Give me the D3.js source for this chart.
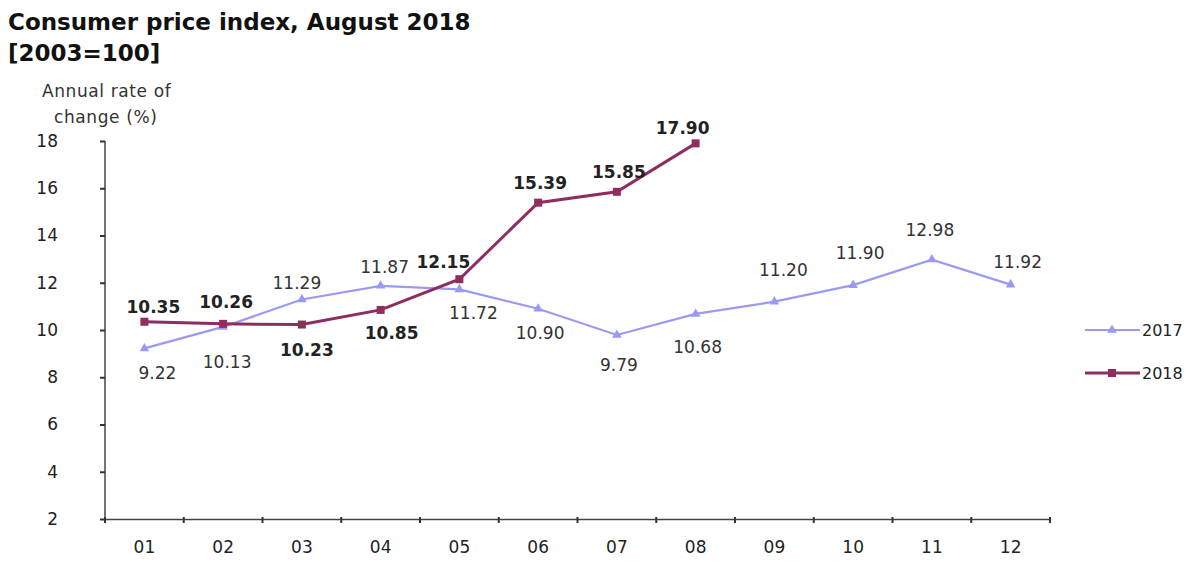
<!DOCTYPE html>
<html>
<head>
<meta charset="utf-8">
<script src="https://cdn.jsdelivr.net/npm/d3@7"></script>
<style>
  body { margin: 0; background: #fff; }
  svg { display: block; font-family: "DejaVu Sans", sans-serif; }
</style>
</head>
<body>
<script>
const months = ['01', '02', '03', '04', '05', '06', '07', '08', '09', '10', '11', '12'];
const values2017 = [9.22, 10.13, 11.29, 11.87, 11.72, 10.90, 9.79, 10.68, 11.20, 11.90, 12.98, 11.92];
const values2018 = [10.35, 10.26, 10.23, 10.85, 12.15, 15.39, 15.85, 17.90];
const yTicks = [2, 4, 6, 8, 10, 12, 14, 16, 18];

// label nudges (dx, dy of the label centre from its point)
const off2017 = [[13, 25], [4, 35], [-5, -17], [4, -19], [14, 24], [2, 24], [2, 30], [2, 33], [9, -32], [7, -32], [-2, -30], [7, -23]];
const off2018 = [[9, -15], [3, -22], [5, 25], [11, 23], [-16, -17], [2, -20], [2, -20], [-13, -15]];

const width = 1200, height = 569;
const svg = d3.select('body').append('svg')
  .attr('width', width)
  .attr('height', height);

const x = d3.scaleBand().domain(months).range([105, 1050]);
const y = d3.scaleLinear().domain([2, 18]).range([519, 141]);
const cx = m => x(m) + x.bandwidth() / 2;

// titles
svg.append('text').attr('x', 8).attr('y', 30)
  .style('font-size', '23px').style('font-weight', 'bold').attr('fill', '#111')
  .text('Consumer price index, August 2018');
svg.append('text').attr('x', 8).attr('y', 61)
  .style('font-size', '23px').style('font-weight', 'bold').attr('fill', '#111')
  .text('[2003=100]');

const ytitle = svg.append('text').attr('fill', '#333').style('font-size', '17px').style('letter-spacing', '0.6px');
ytitle.append('tspan').attr('x', 42).attr('y', 97).text('Annual rate of');
ytitle.append('tspan').attr('x', 54).attr('y', 123).text('change (%)');

// axes
const yAxis = svg.append('g')
  .attr('transform', 'translate(105,0)')
  .call(d3.axisLeft(y).tickValues(yTicks).tickSize(5).tickPadding(42).tickFormat(d3.format('d')));
const xAxis = svg.append('g')
  .attr('transform', 'translate(0,519)')
  .call(d3.axisBottom(x).tickSize(0).tickPadding(22));
xAxis.selectAll('.tick line').remove();
xAxis.selectAll('.sep')
  .data(d3.range(13))
  .enter().append('line')
  .attr('x1', i => 105 + i * x.bandwidth()).attr('x2', i => 105 + i * x.bandwidth())
  .attr('y1', -2).attr('y2', 4)
  .attr('stroke', '#333').attr('stroke-width', 2);

[yAxis, xAxis].forEach(a => {
  a.select('.domain').attr('stroke', '#444').attr('stroke-width', 1.5);
  a.selectAll('.tick line').attr('stroke', '#333').attr('stroke-width', 2);
  a.selectAll('text').style('font-size', '17px').style('font-family', '"DejaVu Sans", sans-serif').attr('fill', '#222');
});
yAxis.select('.domain').attr('d', 'M0,519V141');

// lines
const line = d3.line().x((d, i) => cx(months[i])).y(d => y(d));
const c2017 = '#9a9af4', c2018 = '#8e2d5e';

svg.append('path').datum(values2017)
  .attr('fill', 'none').attr('stroke', c2017).attr('stroke-width', 2.2).attr('d', line);
svg.append('path').datum(values2018)
  .attr('fill', 'none').attr('stroke', c2018).attr('stroke-width', 3).attr('d', line);

const tri = d3.symbol().type(d3.symbolTriangle).size(40);
svg.selectAll('.m17').data(values2017).enter().append('path')
  .attr('transform', (d, i) => `translate(${cx(months[i])},${y(d)})`)
  .attr('d', tri).attr('fill', c2017);
svg.selectAll('.m18').data(values2018).enter().append('rect')
  .attr('x', (d, i) => cx(months[i]) - 4).attr('y', d => y(d) - 4)
  .attr('width', 8).attr('height', 8).attr('fill', c2018);

// value labels
svg.selectAll('.l17').data(values2017).enter().append('text')
  .attr('x', (d, i) => cx(months[i]) + off2017[i][0])
  .attr('y', (d, i) => y(d) + off2017[i][1])
  .attr('text-anchor', 'middle').attr('dominant-baseline', 'central')
  .style('font-size', '17px').attr('fill', '#333')
  .text(d => d.toFixed(2));
svg.selectAll('.l18').data(values2018).enter().append('text')
  .attr('x', (d, i) => cx(months[i]) + off2018[i][0])
  .attr('y', (d, i) => y(d) + off2018[i][1])
  .attr('text-anchor', 'middle').attr('dominant-baseline', 'central')
  .style('font-size', '17px').style('font-weight', 'bold').attr('fill', '#222')
  .text(d => d.toFixed(2));

// legend
const legend = [{ name: '2017', color: c2017, w: 2.2, ty: 330 }, { name: '2018', color: c2018, w: 3, ty: 373 }];
legend.forEach((l, i) => {
  const g = svg.append('g').attr('transform', `translate(1085,${l.ty})`);
  g.append('line').attr('x1', 0).attr('x2', 55).attr('stroke', l.color).attr('stroke-width', l.w);
  if (i === 0) g.append('path').attr('transform', 'translate(27,0)').attr('d', tri).attr('fill', l.color);
  else g.append('rect').attr('x', 23).attr('y', -4).attr('width', 8).attr('height', 8).attr('fill', l.color);
  g.append('text').attr('x', 57).attr('dominant-baseline', 'central')
    .style('font-size', '16px').attr('fill', '#222').text(l.name);
});
</script>
</body>
</html>
